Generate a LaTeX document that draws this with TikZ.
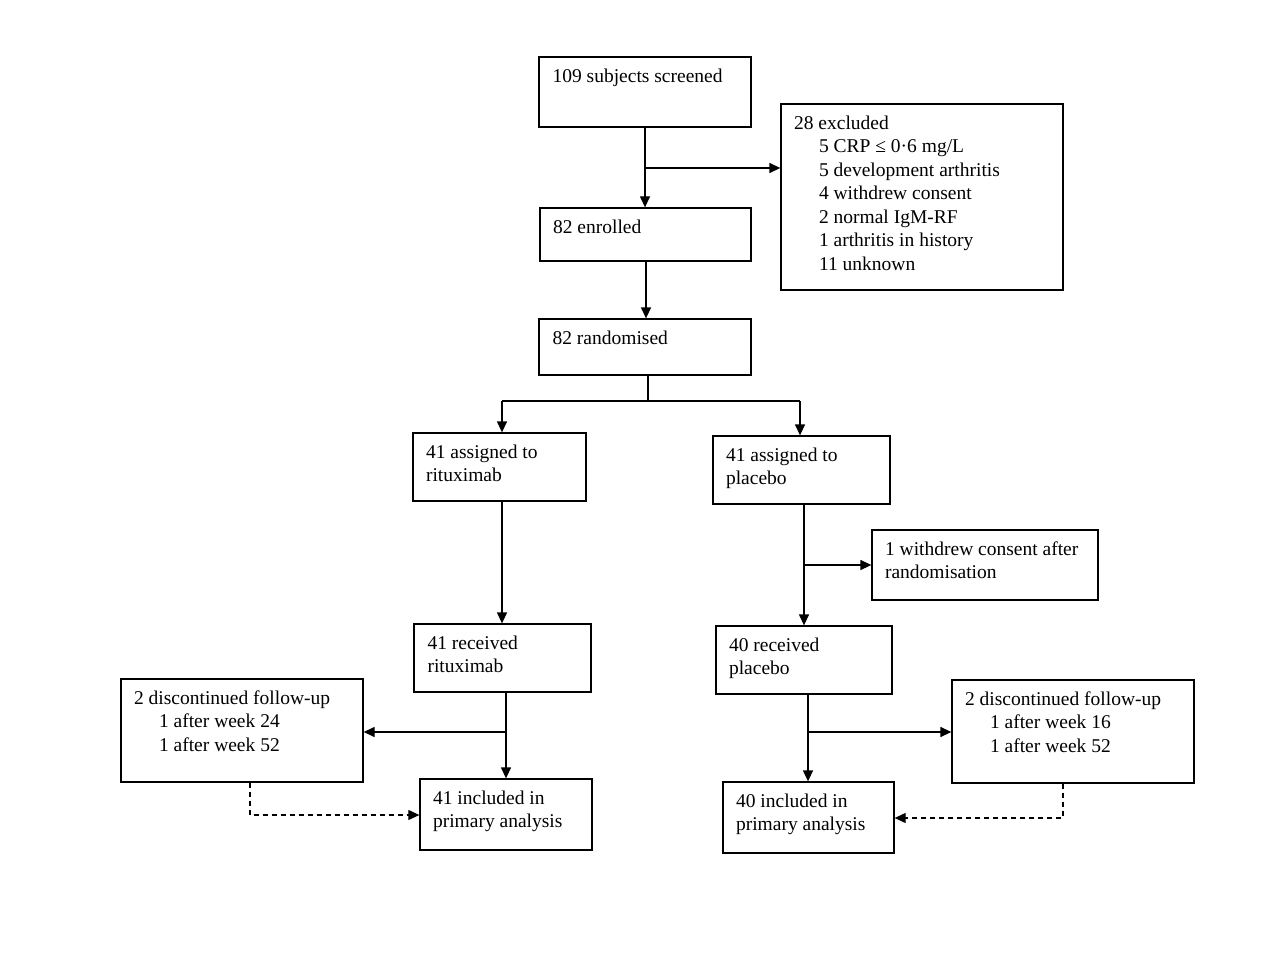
\documentclass[tikz,border=0pt]{standalone}
\usepackage{fontspec}
\setmainfont{Liberation Serif}
\usetikzlibrary{arrows.meta,calc}
\newcommand{\mytab}[1]{\begin{tabular}[t]{@{}l@{}}#1\end{tabular}}
\newcommand{\ind}{\hspace*{25pt}}
\begin{document}
\begin{tikzpicture}[x=1pt,y=-1pt,
  font=\fontsize{19.5}{23.5}\selectfont,
  box/.style={draw, line width=1.3pt, inner sep=0pt},
  txt/.style={anchor=base west, inner sep=0pt},
  conn/.style={line width=1.3pt},
  arr/.style={line width=1.3pt, -{Triangle[length=11pt,width=10pt]}},
  darr/.style={line width=1.1pt, dash pattern=on 5pt off 4pt, -{Triangle[length=11pt,width=10pt]}}]
\useasboundingbox[fill=white] (0,0) rectangle (1280,960);
% boxes
\node[box, minimum width=212pt, minimum height=70pt] (scr) at (645,92) {};
\node[box, minimum width=282pt, minimum height=186pt] (exc) at (922,197) {};
\node[box, minimum width=211pt, minimum height=53pt] (enr) at (645.5,234.5) {};
\node[box, minimum width=212pt, minimum height=56pt] (ran) at (645,347) {};
\node[box, minimum width=173pt, minimum height=68pt] (ar) at (499.5,467) {};
\node[box, minimum width=177pt, minimum height=68pt] (ap) at (801.5,470) {};
\node[box, minimum width=226pt, minimum height=70pt] (wd) at (985,565) {};
\node[box, minimum width=177pt, minimum height=68pt] (rr) at (502.5,658) {};
\node[box, minimum width=176pt, minimum height=68pt] (rp) at (804,660) {};
\node[box, minimum width=242pt, minimum height=103pt] (dl) at (242,730.5) {};
\node[box, minimum width=242pt, minimum height=103pt] (dr) at (1073,731.5) {};
\node[box, minimum width=172pt, minimum height=71pt] (il) at (506,814.5) {};
\node[box, minimum width=171pt, minimum height=71pt] (ip) at (808.5,817.5) {};
% texts
\node[txt] (tscr) at ($(scr.north west)+(14,26)$) {\mytab{109 subjects screened}};
\node[txt] (texc) at ($(exc.north west)+(13.5,26)$) {\mytab{28 excluded\\ \ind 5 CRP ≤ 0·6 mg/L\\ \ind 5 development arthritis\\ \ind 4 withdrew consent\\ \ind 2 normal IgM-RF\\ \ind 1 arthritis in history\\ \ind 11 unknown}};
\node[txt] (tenr) at ($(enr.north west)+(13.5,26)$) {\mytab{82 enrolled}};
\node[txt] (tran) at ($(ran.north west)+(14,26)$) {\mytab{82 randomised}};
\node[txt] (tar) at ($(ar.north west)+(13.5,26)$) {\mytab{41 assigned to\\ rituximab}};
\node[txt] (tap) at ($(ap.north west)+(13.5,26)$) {\mytab{41 assigned to\\ placebo}};
\node[txt] (twd) at ($(wd.north west)+(13.5,26)$) {\mytab{1 withdrew consent after\\ randomisation}};
\node[txt] (trr) at ($(rr.north west)+(14,26)$) {\mytab{41 received\\ rituximab}};
\node[txt] (trp) at ($(rp.north west)+(13.5,26)$) {\mytab{40 received\\ placebo}};
\node[txt] (tdl) at ($(dl.north west)+(13.5,26)$) {\mytab{2 discontinued follow-up\\ \ind 1 after week 24\\ \ind 1 after week 52}};
\node[txt] (tdr) at ($(dr.north west)+(13.5,26)$) {\mytab{2 discontinued follow-up\\ \ind 1 after week 16\\ \ind 1 after week 52}};
\node[txt] (til) at ($(il.north west)+(13.5,26)$) {\mytab{41 included in\\ primary analysis}};
\node[txt] (tip) at ($(ip.north west)+(13.5,26)$) {\mytab{40 included in\\ primary analysis}};
% connectors
\coordinate (c0) at (645,100);
\draw[arr] (c0 |- scr.south) -- (c0 |- enr.north);
\coordinate (c1) at (645,168);
\draw[arr] (c1) -- (c1 -| exc.west);
\coordinate (c9) at (646,300);
\draw[arr] (c9 |- enr.south) -- (c9 |- ran.north);
\coordinate (c2) at (648,401);
\coordinate (c3) at (502,401);
\coordinate (c4) at (800,401);
\draw[conn] (c2 |- ran.south) -- (c2);
\draw[conn] (c3) -- (c4);
\draw[arr] (c3) -- (c3 |- ar.north);
\draw[arr] (c4) -- (c4 |- ap.north);
\coordinate (c5) at (502,500);
\draw[arr] (c5 |- ar.south) -- (c5 |- rr.north);
\draw[arr] (rp.north |- ap.south) -- (rp.north);
\coordinate (c6) at (804,565);
\draw[arr] (c6) -- (c6 -| wd.west);
\draw[arr] (il.north |- rr.south) -- (il.north);
\coordinate (c7) at (506,732);
\draw[arr] (c7) -- (c7 -| dl.east);
\coordinate (c8) at (808,732);
\draw[arr] (c8 |- rp.south) -- (c8 |- ip.north);
\draw[arr] (c8) -- (c8 -| dr.west);
\coordinate (d1) at (250,815);
\draw[darr] (d1 |- dl.south) -- (d1) -- (d1 -| il.west);
\coordinate (d2) at (1063,818);
\draw[darr] (d2 |- dr.south) -- (d2) -- (d2 -| ip.east);
\end{tikzpicture}
\end{document}
